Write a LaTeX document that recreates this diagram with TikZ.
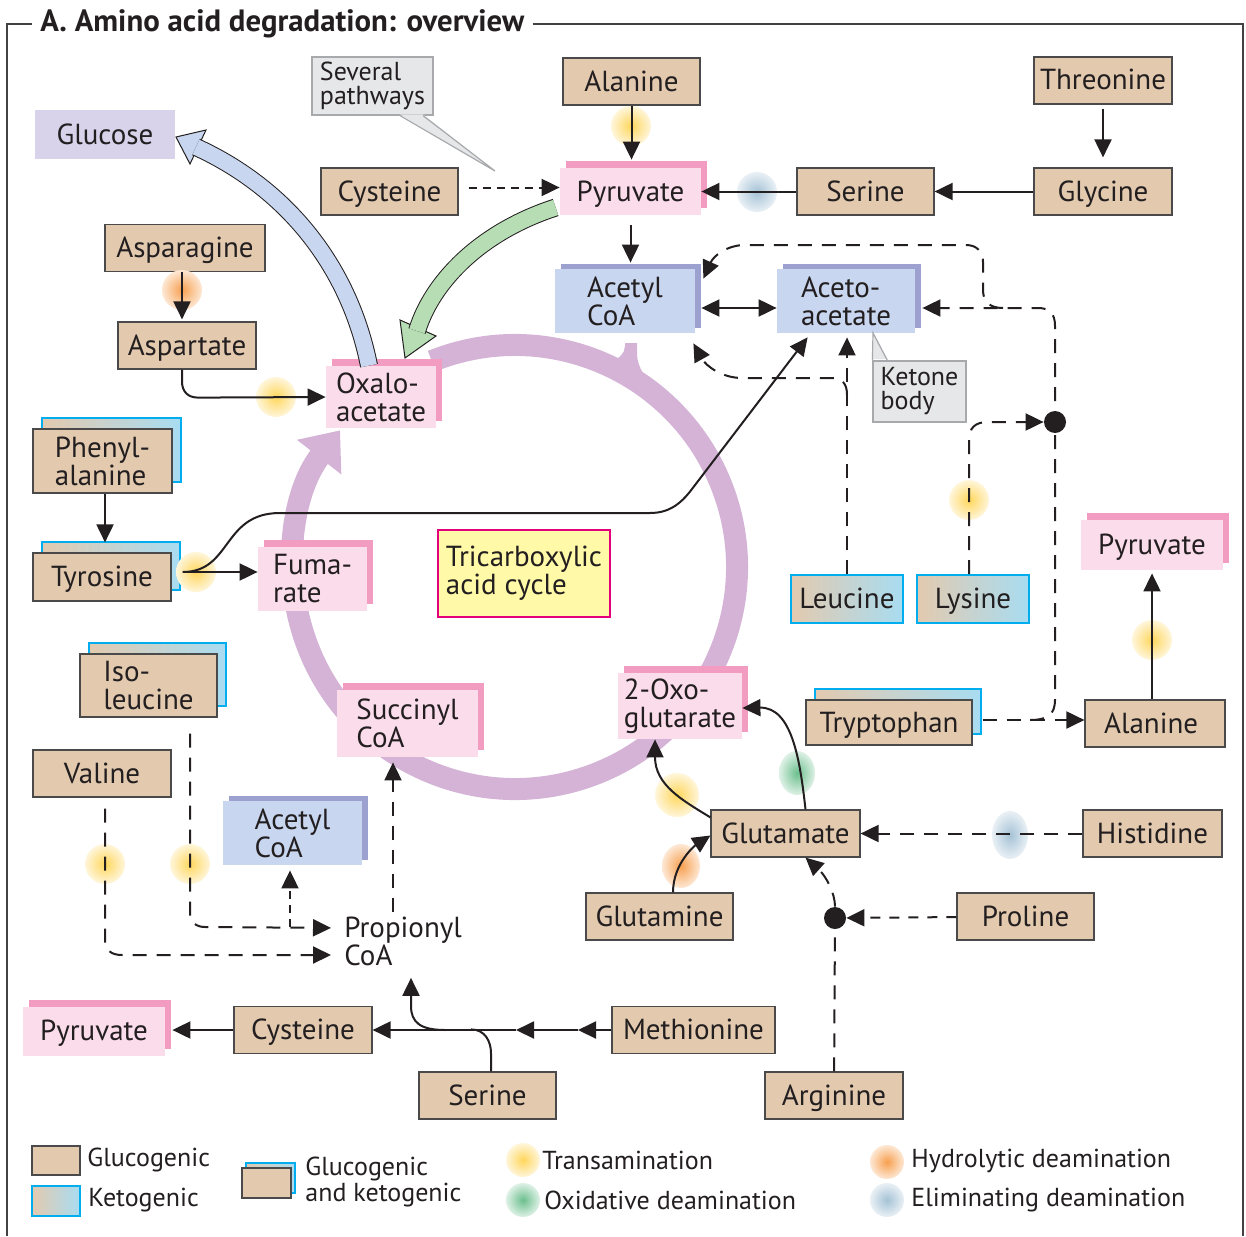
\documentclass[tikz,border=0pt]{standalone}
\usepackage{fontspec}
\setmainfont{PT Sans}
\usetikzlibrary{arrows.meta,shadows}

\begin{document}
\begin{tikzpicture}[x=0.5pt,y=-0.5pt,
  >={Triangle[length=9pt,width=8.5pt]},
  txt/.style={font=\fontsize{14.5}{14}\selectfont, text=ink, inner sep=0pt, align=left},
  oneline/.style={text height=11.5pt, text depth=2pt},
  smalltxt/.style={txt, font=\fontsize{13}{12}\selectfont},
  glubox/.style={txt, draw=edge, line width=0.6pt, fill=tan, minimum height=23.5pt},
  ketshade/.style={draw=ketD, line width=1pt, left color=tan, right color=ketB},
  ketbox/.style={txt, oneline, ketshade, minimum height=24pt},
  bothbox/.style={glubox, general shadow={shadow xshift=4.5pt, shadow yshift=5.5pt, ketshade}},
  pinkbox/.style={txt, fill=pinkF, general shadow={shadow xshift=3pt, shadow yshift=3.5pt, draw=none, fill=pinkS}},
  bluebox/.style={txt, fill=blueF, minimum height=32pt, general shadow={shadow xshift=3pt, shadow yshift=2.5pt, draw=none, fill=blueS}},
  notebox/.style={smalltxt, fill=callF, draw=callD, line width=0.6pt},
  jdot/.style={circle, fill=ink, minimum size=11pt, inner sep=0pt},
  conn/.style={draw=ink, line width=1pt},
  dashL/.style={dash pattern=on 7pt off 5pt},
  dashM/.style={dash pattern=on 5pt off 4.5pt},
  dashS/.style={dash pattern=on 4pt off 3pt},
  boxframe/.style={draw=ink!85, line width=1pt}]
  \definecolor{ink}{HTML}{231F20}
  \definecolor{edge}{HTML}{4A4A4A}
  \definecolor{tan}{HTML}{E3CAAF}
  \definecolor{ketB}{HTML}{A8DCF1}
  \definecolor{ketD}{HTML}{00AEEF}
  \definecolor{pinkF}{HTML}{FBDCEB}
  \definecolor{pinkS}{HTML}{F29CC1}
  \definecolor{blueF}{HTML}{C8D6EF}
  \definecolor{blueS}{HTML}{9DA1D0}
  \definecolor{glucc}{HTML}{D8D3EA}
  \definecolor{callF}{HTML}{E6E7E8}
  \definecolor{callD}{HTML}{A7A9AC}
  \definecolor{ringc}{HTML}{D4B3D6}
  \definecolor{tcaF}{HTML}{FFF9A8}
  \definecolor{tcaD}{HTML}{E4007D}
  \definecolor{grnF}{HTML}{B7DDB5}
  \definecolor{glY}{HTML}{FFD65C}
  \definecolor{glO}{HTML}{F7A050}
  \definecolor{glG}{HTML}{6CBF8E}
  \definecolor{glB}{HTML}{A5C2D6}

  \useasboundingbox (0,0) rectangle (1246,1236);

  % frame and title
  \node[anchor=west, inner sep=4pt, text=ink, text height=11pt, text depth=3pt, font=\bfseries\fontsize{15.4}{17}\selectfont] (title) at (32,24) {A. Amino acid degradation: overview};
  \draw[boxframe] (7,1236) -- (7,24) -- (title.west);
  \draw[boxframe] (title.east) -- (1243,24) -- (1243,1236);

  % citric acid cycle
  \draw[ringc, line width=11pt, -{Triangle[length=17pt,width=27pt]}] (515,567) ++(-112:222) arc[start angle=-112, end angle=218, radius=222];
  \fill[ringc] (625,343) -- (637,343) -- (637,355) .. controls (638,368) and (645,377) .. (656,392) -- (608,364) .. controls (619,359) and (625,353) .. (625,346) -- cycle;

  % big arrows
  \filldraw[fill=grnF, draw=ink, line width=0.5pt] (405,358) -- (436,336) -- (400,320) -- cycle;
  \filldraw[fill=blueF, draw=ink, line width=0.5pt] (176,137) -- (206,130) -- (190,164) -- cycle;

  % boxes
  \foreach \nm/\x/\y/\w/\lab in {
    alaT/631.5/81.5/68.5pt/Alanine,
    thr/1103/80.5/69pt/Threonine,
    cysT/389.5/191.5/68.5pt/Cysteine,
    serT/865.5/191.5/68.5pt/Serine,
    gly/1103/191.5/69pt/Glycine,
    asn/185/248/80pt/Asparagine,
    asp/187/345.5/69pt/Aspartate,
    val/102/773.5/69pt/Valine,
    glu/785.5/833.5/74.5pt/Glutamate,
    his/1152.5/833.5/69.5pt/Histidine,
    gln/659.5/916.5/73.5pt/Glutamine,
    pro/1025.5/916.5/68.5pt/Proline,
    cysB/303/1030/69pt/Cysteine,
    met/693.5/1030/81.5pt/Methionine,
    serB/487.5/1095.5/68.5pt/Serine,
    arg/834/1095.5/69pt/Arginine,
    alaR/1155/723.5/70pt/Alanine
  } \node[glubox, oneline, minimum width=\w] (\nm) at (\x,\y) {\lab};

  \node[bothbox, minimum width=69.5pt, minimum height=32pt] (phe) at (102.5,461) {Phenyl-\\alanine};
  \node[bothbox, oneline, minimum width=69pt, minimum height=24pt] (tyr) at (102,577) {Tyrosine};
  \node[bothbox, minimum width=68.5pt, minimum height=31.5pt] (ile) at (148.5,685.5) {Iso-\\leucine};
  \node[bothbox, oneline, minimum width=83pt, minimum height=22.5pt] (trp) at (889,722.5) {Tryptophan};

  \node[ketbox, minimum width=56pt] (leu) at (847,599) {Leucine};
  \node[ketbox, minimum width=56pt] (lys) at (973,599) {Lysine};

  \node[pinkbox, oneline, minimum width=70.5pt, minimum height=23.5pt] (pyrT) at (630.5,191.5) {Pyruvate};
  \node[pinkbox, minimum width=55pt, minimum height=31pt] (oaa) at (381,397) {Oxalo-\\acetate};
  \node[pinkbox, minimum width=54.5pt, minimum height=32pt] (fum) at (312.5,579) {Fuma-\\rate};
  \node[pinkbox, minimum width=70.5pt, minimum height=33.5pt] (suc) at (407.5,723.5) {Succinyl\\CoA};
  \node[pinkbox, minimum width=62pt, minimum height=33pt] (oxo) at (680,706) {2-Oxo-\\glutarate};
  \node[pinkbox, oneline, minimum width=71pt, minimum height=25pt] (pyrR) at (1152,545) {Pyruvate};
  \node[pinkbox, oneline, minimum width=71pt, minimum height=24.5pt] (pyrB) at (94,1031) {Pyruvate};

  \node[bluebox, minimum width=70pt] (acT) at (625,301) {Acetyl\\CoA};
  \node[bluebox, minimum width=69pt] (aceto) at (846,301) {Aceto-\\acetate};
  \node[bluebox, minimum width=69.5pt] (acB) at (292.5,833) {Acetyl\\CoA};

  \node[txt, oneline, fill=glucc, minimum width=70pt, minimum height=24.5pt] (glc) at (105,134.5) {Glucose};
  \node[txt, fill=tcaF, draw=tcaD, line width=0.8pt, minimum width=86pt, minimum height=43.5pt] (tca) at (524,573.5) {Tricarboxylic\\acid cycle};
  \node[txt, anchor=west] (prop) at (344,941) {Propionyl\\CoA};

  % callouts
  \node[notebox, minimum width=60.5pt, minimum height=29pt] (sev) at (372.5,86) {Several\\pathways};
  \coordinate (sevtip) at (495,171);
  \fill[callF] ([shift={(13.75pt,0.6pt)}]sev.south) -- (sevtip) -- ([shift={(25.25pt,0.6pt)}]sev.south) -- cycle;
  \draw[callD, line width=0.6pt] ([xshift=13.75pt]sev.south) -- (sevtip) -- ([xshift=25.25pt]sev.south);
  \node[notebox, minimum width=46.5pt, minimum height=30.5pt] (ket) at (919.5,391.5) {Ketone\\body};
  \coordinate (kettip) at (873,333);
  \fill[callF] ([shift={(0.3pt,0.6pt)}]ket.north west) -- ([xshift=0.3pt]kettip) -- ([shift={(7.5pt,0.6pt)}]ket.north west) -- cycle;
  \draw[callD, line width=0.6pt] (ket.north west) -- (kettip) -- ([xshift=7.5pt]ket.north west);

  % big arrow bands
  \draw[draw=ink, line width=0.5pt, double=grnF, double distance=8pt] ([shift={(-2pt,-8pt)}]pyrT.west) .. controls (480,232) and (432,282) .. (417,331);
  \draw[draw=ink, line width=0.5pt, double=blueF, double distance=8pt] ([xshift=-6pt]oaa.north) .. controls (350,270) and (290,190) .. (196,147);

  % deamination marks
  \foreach \gx/\gy/\rx/\ry in {631/126/10pt/10pt, 276/397/10pt/10pt, 196/572/10pt/10pt,
    969/500/10pt/10pt, 1152/640/10pt/10pt, 105/864/10pt/10pt, 190/864/10pt/10pt,
    677/795/11pt/11pt, 523/1160/8.5pt/8.5pt}
    \shade[inner color=glY, outer color=glY!22] (\gx,\gy) ellipse[x radius=\rx, y radius=\ry];
  \foreach \gx/\gy/\rx/\ry in {182/290/10pt/10pt, 681/866/9.5pt/11pt, 887/1162/8.5pt/8.5pt}
    \shade[inner color=glO, outer color=glO!24] (\gx,\gy) ellipse[x radius=\rx, y radius=\ry];
  \foreach \gx/\gy/\rx/\ry in {797/773/9pt/11pt, 523/1200/8.5pt/8.5pt}
    \shade[inner color=glG, outer color=glG!22] (\gx,\gy) ellipse[x radius=\rx, y radius=\ry];
  \foreach \gx/\gy/\rx/\ry in {757/192/10pt/10pt, 1010/835/9pt/12pt, 887/1200/8.5pt/8.5pt}
    \shade[inner color=glB, outer color=glB!24] (\gx,\gy) ellipse[x radius=\rx, y radius=\ry];

  % junctions
  \node[jdot] (lysdot) at (1055,422) {};
  \node[jdot] (argdot) at (835,918) {};
  \coordinate (trpjoin) at (1030,720);
  \coordinate (ketjoin) at (1003,308);
  \coordinate (leujoin) at (847,395);
  \coordinate (ilejoin) at (290,927);
  \coordinate (serjoin) at (445,1030);
  \coordinate (m1) at (578,1030);
  \coordinate (m2) at (516,1030);
  \coordinate (tyrout) at ([shift={(5.5pt,2.5pt)}]tyr.east);

  % upper part
  \draw[conn,->,shorten >=4pt] (alaT) -- (alaT |- pyrT.north);
  \draw[conn,->,shorten <=2pt,shorten >=5pt] (thr) -- (gly);
  \draw[conn,->] (gly) -- (serT);
  \draw[conn,->] (serT) -- (pyrT);
  \draw[conn,->,dashS,shorten <=5pt] ([yshift=2pt]cysT.east) -- ([yshift=2pt]pyrT.west);
  \draw[conn,->,shorten <=5pt,shorten >=3pt] (pyrT) -- (pyrT |- acT.north);
  \draw[conn,<->,shorten <=3pt] ([yshift=-3.5pt]acT.east) -- ([yshift=-3.5pt]aceto.west);
  \draw[conn,->,shorten >=5pt] ([xshift=1.25pt]phe.south) -- ([xshift=1.25pt]phe.south |- tyr.north);
  \draw[conn,->,shorten >=1pt] ([xshift=-1.5pt]asn.south) -- ([xshift=-1.5pt]asn.south |- asp.north);
  \draw[conn,->] ([xshift=-2.5pt]asp.south) -- ++(0,12) .. controls +(0,10) and +(-10,0) .. ++(16,16) -- (oaa.west);
  \draw[conn,->] (tyrout) -- (tyrout -| fum.west);
  \draw[conn,->] (tyrout) .. controls (232,572) and (222,513) .. (280,513) -- (650,513) .. controls (668,513) and (680,505) .. (692,489) -- ([xshift=15.5pt,yshift=-2pt]aceto.south west);

  % ketogenic side
  \draw[conn,->,dashL,shorten <=5pt] ([yshift=1.25pt]trp.east) -- ([yshift=1.25pt]trp.east -| alaR.west);
  \draw[conn,->,dashL,shorten >=3.5pt] (trpjoin) .. controls (1048,720) and (1055,714) .. (1055,700) -- (1055,326) .. controls (1055,314) and (1050,308) .. (1038,308) -- ([yshift=-3.5pt]aceto.east);
  \draw[conn,->,dashL] (ketjoin) .. controls (990,308) and (983,302) .. (983,290) -- (983,262) .. controls (983,252) and (977,245) .. (966,245) -- (745,245) .. controls (728,245) and (714,255) .. ([shift={(4pt,-5pt)}]acT.north east);
  \draw[conn,->,dashL] ([xshift=-2pt]lys.north) -- (969,440) .. controls (969,428) and (975,422) .. (988,422) -- (lysdot);
  \draw[conn,->,dashL,shorten >=2pt] (leu) -- (leu |- aceto.south);
  \draw[conn,->,dashL] (leujoin) .. controls (847,383) and (842,378) .. (830,378) -- (742,378) .. controls (722,378) and (706,366) .. ([shift={(-1pt,-5pt)}]acT.south east);
  \draw[conn,->,shorten >=1.5pt] ([xshift=-1.5pt]alaR.north) -- ([xshift=-1.5pt]alaR.north |- pyrR.south);

  % branched chain
  \draw[conn,->,dashL,shorten <=8pt,shorten >=6.5pt] ([xshift=20.75pt]ile.south) -- (190,913) .. controls (190,922) and (196,927) .. (205,927) -- ([yshift=6.5pt]prop.west);
  \draw[conn,->,dashS,shorten >=2.5pt] (ilejoin) -- (ilejoin |- acB.south);
  \draw[conn,->,dashL,shorten <=5.5pt,shorten >=6.5pt] ([xshift=1.5pt]val.south) -- (105,940) .. controls (105,950) and (111,955) .. (122,955) -- ([yshift=-7pt]prop.west);
  \draw[conn,->,dashL,shorten <=2pt,shorten >=2.5pt] ([xshift=24.5pt]prop.north west) -- ([xshift=24.5pt]prop.north west |- suc.south);

  % sulfur amino acids
  \draw[conn,->] (met) -- (m1);
  \draw[conn,->] (m1) -- (m2);
  \draw[conn,->] (m2) -- (cysB);
  \draw[conn,->,shorten >=3.5pt] (cysB) -- (cysB -| pyrB.east);
  \draw[conn] ([xshift=1.75pt]serB.north) -- ++(0,-18) .. controls +(0,-12) and +(14,0) .. ++(-20,-24);
  \draw[conn,->,shorten >=6pt] (serjoin) .. controls (420,1030) and (411,1022) .. (411,1006) -- ([xshift=33.5pt]prop.south west);

  % glutamate family
  \draw[conn,dashL] (arg) -- (argdot);
  \draw[conn,->,dashL] (argdot) .. controls (835,893) and (826,876) .. ([xshift=10pt]glu.south);
  \draw[conn,->,dashM] (pro) -- (argdot);
  \draw[conn,->,dashL] (his) -- (glu);
  \draw[conn,->] ([xshift=6.75pt]gln.north) .. controls +(0,-30) and +(-14,9) .. ([yshift=-1pt]glu.west);
  \draw[conn,->] ([yshift=-4pt]glu.north west) .. controls (682,800) and (655,785) .. ([xshift=-12.5pt]oxo.south);
  \draw[conn,->] ([xshift=10pt]glu.north) .. controls (800,760) and (792,707) .. ([yshift=-1pt]oxo.east);

  % legend
  \node[glubox, minimum width=24pt, minimum height=14.5pt] (lgglu) at (56,1160.5) {};
  \node[ketbox, minimum width=24pt, minimum height=15pt, text height=0pt, text depth=0pt] (lgket) at (56,1201) {};
  \node[glubox, minimum width=24.5pt, minimum height=15pt, general shadow={shadow xshift=2pt, shadow yshift=2.5pt, ketshade}] (lgboth) at (266.5,1183) {};
  \node[smalltxt, anchor=west] (lgglut) at (87,1160) {Glucogenic};
  \node[smalltxt, anchor=west] (lgkett) at (88,1200) {Ketogenic};
  \node[smalltxt, anchor=west, font=\fontsize{13}{11.5}\selectfont] (lgbotht) at (305,1182) {Glucogenic\\and ketogenic};
  \node[smalltxt, anchor=west] (lgtrans) at (542,1160) {Transamination};
  \node[smalltxt, anchor=west] (lgox) at (544,1200) {Oxidative deamination};
  \node[smalltxt, anchor=west] (lghyd) at (911,1161) {Hydrolytic deamination};
  \node[smalltxt, anchor=west] (lgelim) at (911,1200) {Eliminating deamination};
\end{tikzpicture}
\end{document}
